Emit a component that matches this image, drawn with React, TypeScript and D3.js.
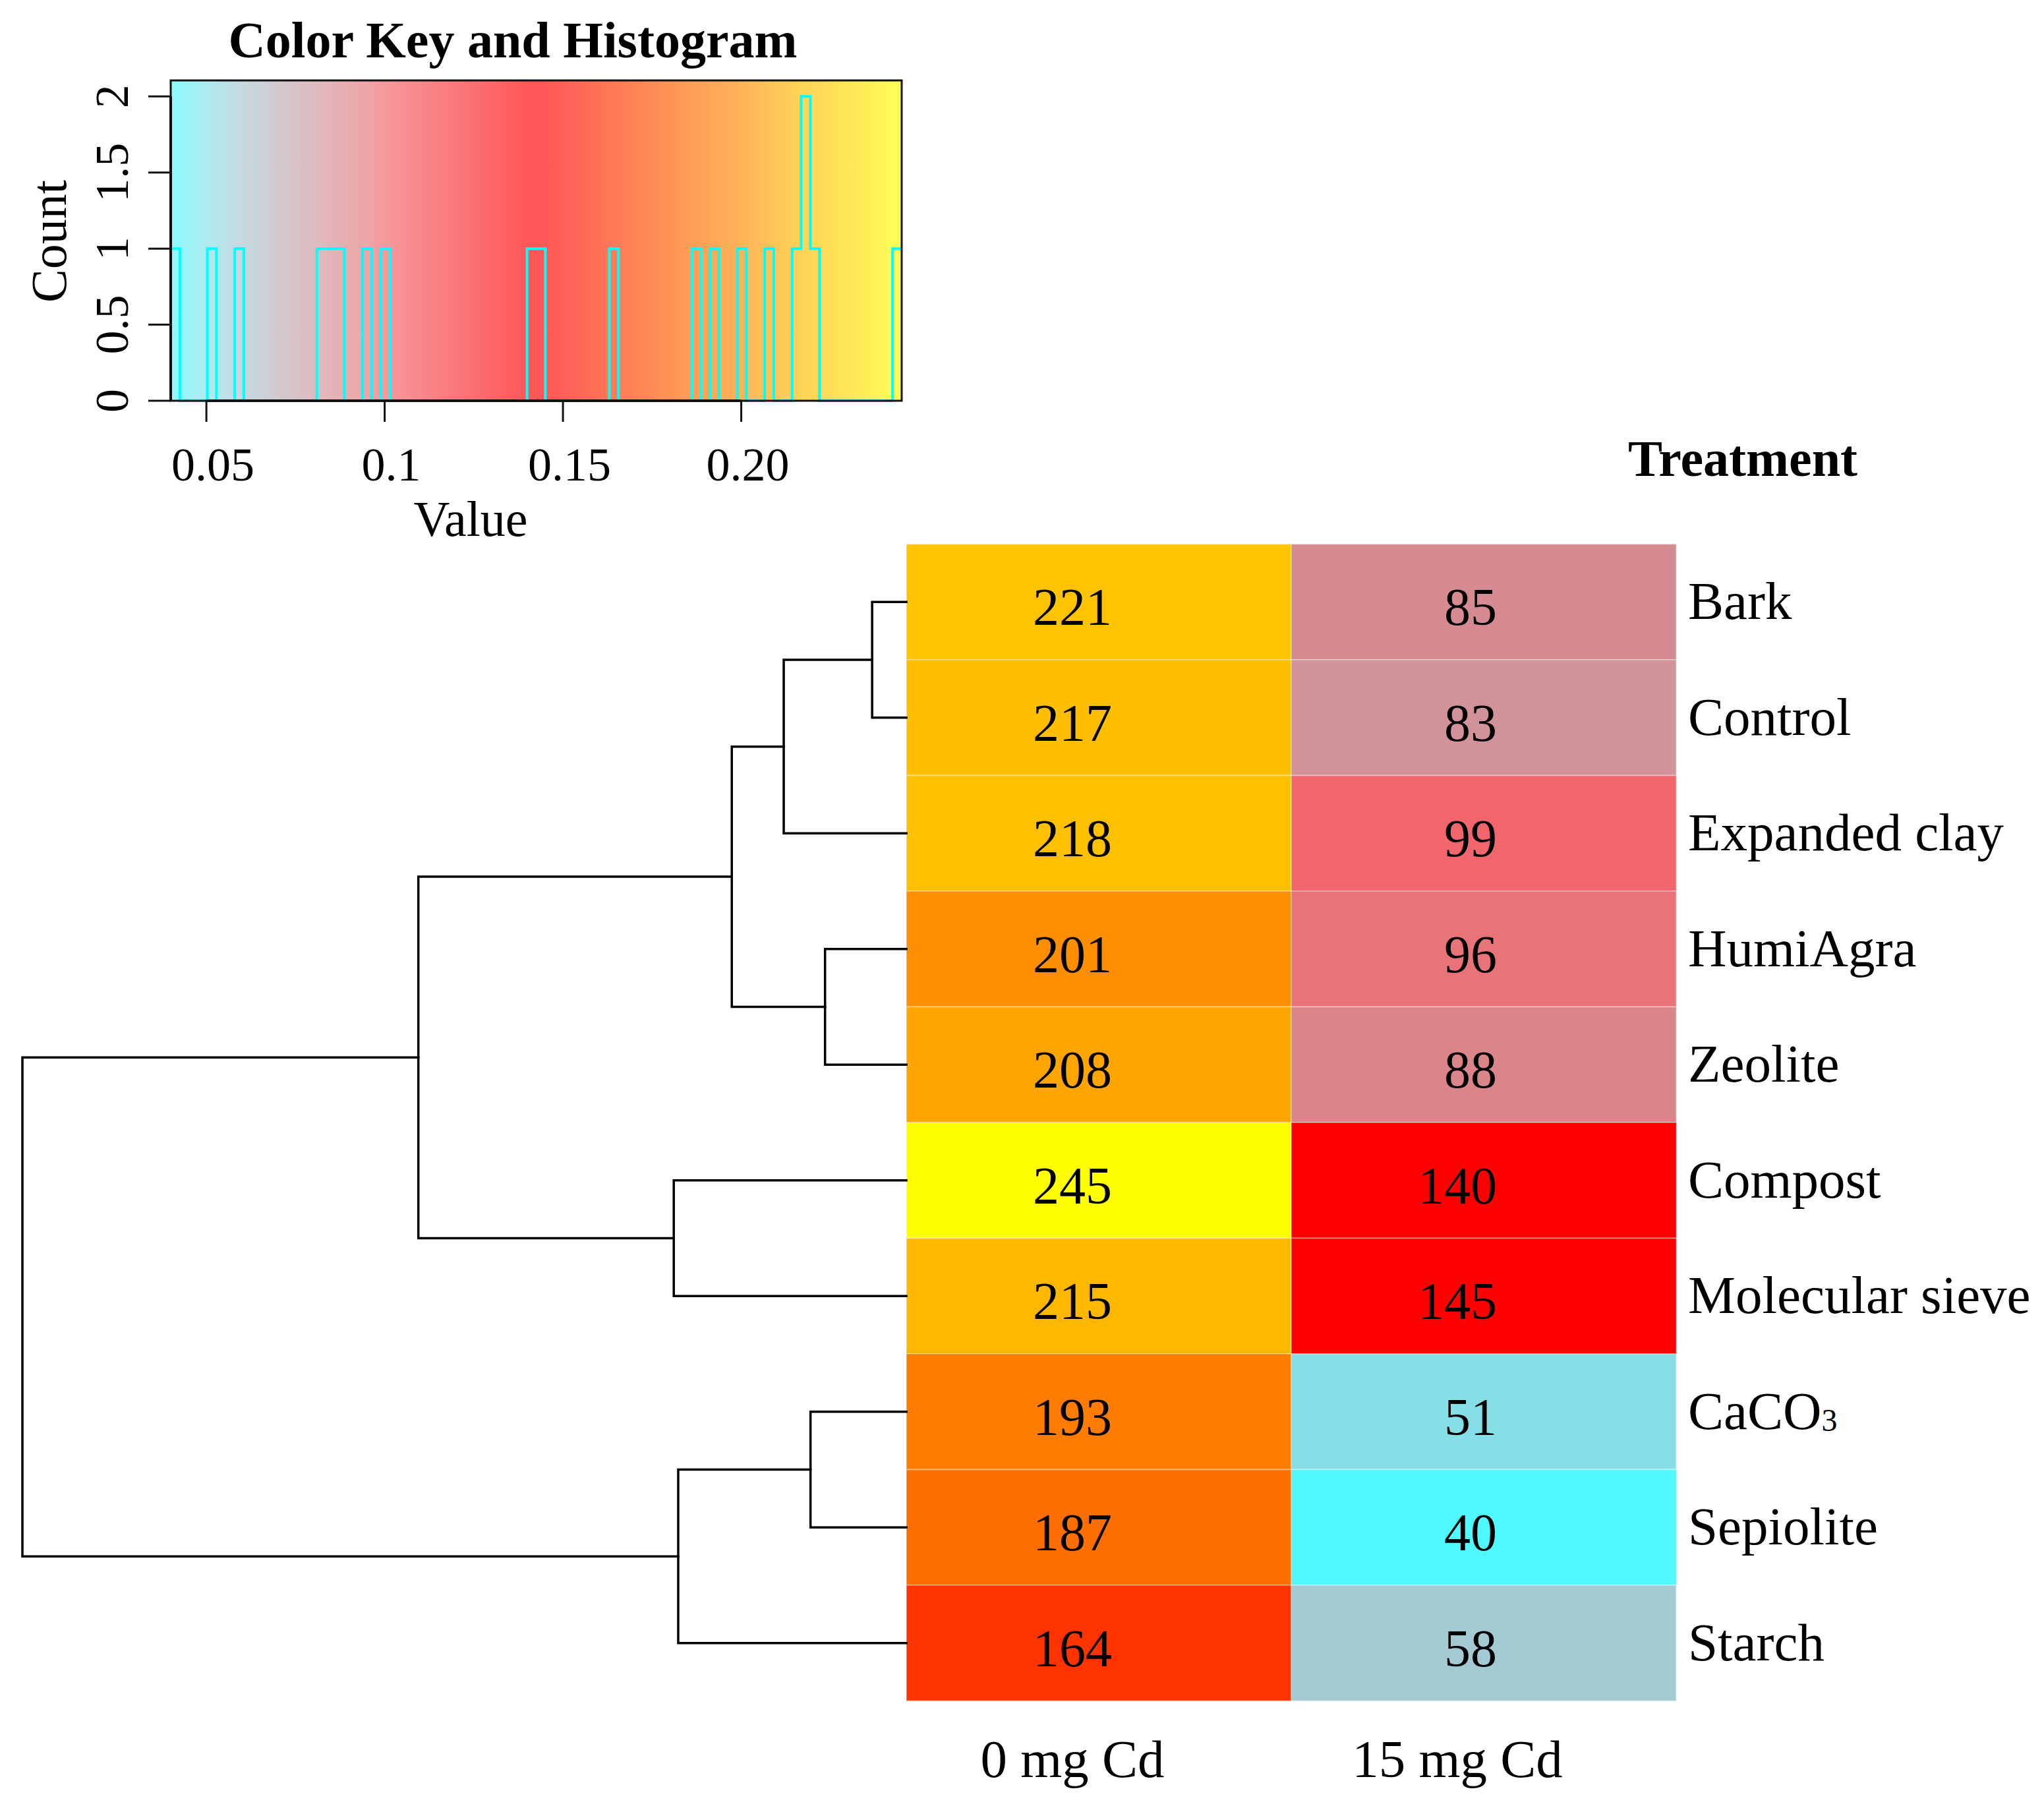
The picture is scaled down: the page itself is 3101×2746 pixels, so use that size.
import React, { useLayoutEffect } from "react";
import * as d3 from "d3";

// ---------------- DATA ----------------
const treatments = [
  "Bark",
  "Control",
  "Expanded clay",
  "HumiAgra",
  "Zeolite",
  "Compost",
  "Molecular sieve",
  "CaCO3",
  "Sepiolite",
  "Starch",
];
const columns = ["0 mg Cd", "15 mg Cd"];
const cd0 = [221, 217, 218, 201, 208, 245, 215, 193, 187, 164];
const cd15 = [85, 83, 99, 96, 88, 140, 145, 51, 40, 58];

// colour ramp read from the cells (value -> colour)
const stopValues = [40, 51, 58, 83, 85, 88, 96, 99, 140, 145, 164, 187, 193, 201, 208, 215, 217, 218, 221, 245];
const stopColors = [
  "#50F8FF", "#86DEE6", "#A3CAD3", "#D29299", "#D68B93", "#D98589", "#E87479", "#F0666C",
  "#FF0000", "#FF0000", "#FF3300", "#FF6E00", "#FF7C00", "#FF8E00", "#FFA500", "#FFB700",
  "#FFBF00", "#FFC000", "#FFC300", "#FFFF00",
];

const keyFactor = 1000; // key axis shows value / 1000
const nBins = 80;
const xTickValues = [0.05, 0.1, 0.15, 0.2];
const xTickLabels = ["0.05", "0.1", "0.15", "0.20"];
const yTickValues = [0, 0.5, 1, 1.5, 2];
const yTickLabels = ["0", "0.5", "1", "1.5", "2"];

// ---------------- LAYOUT ----------------
const W = 3101;
const H = 2746;
const FONT = "'Liberation Serif', 'Times New Roman', serif";

const keyBox = { left: 259, right: 1368, top: 122, bottom: 608 };
const heat = { left: 1375, right: 2543, top: 825.5, bottom: 2580.5 };
const dendroLeft = 34;

export default function App() {
  useLayoutEffect(() => {
    document.body.style.margin = "0";
  }, []);

  const allValues = [...cd0, ...cd15];
  const vMin = d3.min(allValues) as number;
  const vMax = d3.max(allValues) as number;

  const color = d3
    .scaleLinear<string>()
    .domain(stopValues)
    .range(stopColors)
    .interpolate(d3.interpolateRgb);

  // ---- key / histogram scales
  const xKey = d3
    .scaleLinear()
    .domain([vMin / keyFactor, vMax / keyFactor])
    .range([keyBox.left, keyBox.right]);

  const binW = (vMax - vMin) / nBins;
  const counts = new Array(nBins).fill(0);
  allValues.forEach((v) => {
    const idx = Math.min(nBins - 1, Math.floor((v - vMin) / binW + 1e-9));
    counts[idx] += 1;
  });
  const maxCount = d3.max(counts) as number;
  const yKey = d3
    .scaleLinear()
    .domain([0, maxCount / 0.95])
    .range([keyBox.bottom, keyBox.top]);

  const histPts: [number, number][] = [[vMin / keyFactor, 0]];
  counts.forEach((c, i) => histPts.push([(vMin + i * binW) / keyFactor, c]));
  histPts.push([vMax / keyFactor, counts[nBins - 1]]);
  const histLine = d3
    .line<[number, number]>()
    .x((d) => xKey(d[0]))
    .y((d) => yKey(d[1]))
    .curve(d3.curveStepAfter);

  const gradStops = stopValues.map((v, i) => ({
    offset: (v - vMin) / (vMax - vMin),
    c: stopColors[i],
  }));

  // ---- heatmap scales
  const xCol = d3.scaleBand<string>().domain(columns).range([heat.left, heat.right]);
  const yRow = d3.scaleBand<string>().domain(treatments).range([heat.top, heat.bottom]);
  const rowCenter = (i: number) => (yRow(treatments[i]) as number) + yRow.bandwidth() / 2;

  // ---- complete-linkage clustering (Euclidean) of rows
  const vec = treatments.map((_, i) => [cd0[i], cd15[i]]);
  const dist = (a: number, b: number) => Math.hypot(vec[a][0] - vec[b][0], vec[a][1] - vec[b][1]);
  type Node = { members: number[]; h: number; y: number; children?: [Node, Node] };
  let clusters: Node[] = treatments.map((_, i) => ({ members: [i], h: 0, y: rowCenter(i) }));
  const internal: Node[] = [];
  while (clusters.length > 1) {
    let best = Infinity;
    let bi = 0;
    let bj = 1;
    for (let i = 0; i < clusters.length; i++) {
      for (let j = i + 1; j < clusters.length; j++) {
        let dmax = 0;
        clusters[i].members.forEach((a) =>
          clusters[j].members.forEach((b) => {
            dmax = Math.max(dmax, dist(a, b));
          })
        );
        if (dmax < best) {
          best = dmax;
          bi = i;
          bj = j;
        }
      }
    }
    const a = clusters[bi];
    const b = clusters[bj];
    const node: Node = {
      members: [...a.members, ...b.members],
      h: best,
      y: (a.y + b.y) / 2,
      children: [a, b],
    };
    internal.push(node);
    clusters = clusters.filter((_, k) => k !== bi && k !== bj);
    clusters.push(node);
  }
  const rootH = clusters[0].h;
  const xDen = d3.scaleLinear().domain([0, rootH]).range([heat.left, dendroLeft]);

  const dendroPaths = internal.map((n) => {
    const [a, b] = n.children as [Node, Node];
    const xn = xDen(n.h);
    return `M${xDen(a.h)},${a.y}H${xn}V${b.y}H${xDen(b.h)}`;
  });

  const numberBaseline = 35;
  const numberDx = 20;

  return (
    <div style={{ position: "absolute", left: 0, top: 0 }}>
      <svg width={W} height={H} viewBox={`0 0 ${W} ${H}`} style={{ display: "block", background: "#fff" }}>
        <defs>
          <linearGradient id="keyGrad" x1="0" x2="1" y1="0" y2="0">
            {gradStops.map((s, i) => (
              <stop key={i} offset={s.offset} stopColor={s.c} />
            ))}
          </linearGradient>
        </defs>
        <rect x={0} y={0} width={W} height={H} fill="#fff" />

        {/* ---------- Colour key & histogram ---------- */}
        <text x={778} y={87} textAnchor="middle" fontFamily={FONT} fontWeight="bold" fontSize={78} fill="#000">
          Color Key and Histogram
        </text>
        <rect
          x={keyBox.left}
          y={keyBox.top}
          width={keyBox.right - keyBox.left}
          height={keyBox.bottom - keyBox.top}
          fill="url(#keyGrad)"
          fillOpacity={0.66}
        />
        <path d={histLine(histPts) as string} fill="none" stroke="#00FFFF" strokeWidth={4} />
        <rect
          x={keyBox.left}
          y={keyBox.top}
          width={keyBox.right - keyBox.left}
          height={keyBox.bottom - keyBox.top}
          fill="none"
          stroke="#111"
          strokeWidth={3}
        />
        {/* y axis */}
        <line x1={keyBox.left} x2={keyBox.left} y1={yKey(0)} y2={yKey(2)} stroke="#111" strokeWidth={4} />
        {yTickValues.map((t, i) => (
          <g key={t}>
            <line x1={keyBox.left - 34} x2={keyBox.left} y1={yKey(t)} y2={yKey(t)} stroke="#111" strokeWidth={3} />
            <text
              transform={`translate(194,${yKey(t)}) rotate(-90)`}
              textAnchor="middle"
              fontFamily={FONT}
              fontSize={72}
              fill="#000"
            >
              {yTickLabels[i]}
            </text>
          </g>
        ))}
        <text transform={`translate(100,366) rotate(-90)`} textAnchor="middle" fontFamily={FONT} fontSize={76} fill="#000">
          Count
        </text>
        {/* x axis */}
        <line x1={xKey(xTickValues[0])} x2={xKey(xTickValues[3])} y1={keyBox.bottom} y2={keyBox.bottom} stroke="#111" strokeWidth={4} />
        {xTickValues.map((t, i) => (
          <g key={t}>
            <line x1={xKey(t)} x2={xKey(t)} y1={keyBox.bottom} y2={keyBox.bottom + 32} stroke="#111" strokeWidth={3} />
            <text x={xKey(t) + 10} y={729} textAnchor="middle" fontFamily={FONT} fontSize={72} fill="#000">
              {xTickLabels[i]}
            </text>
          </g>
        ))}
        <text x={714} y={813} textAnchor="middle" fontFamily={FONT} fontSize={76} fill="#000">
          Value
        </text>

        {/* ---------- Heatmap ---------- */}
        <text x={2644} y={722} textAnchor="middle" fontFamily={FONT} fontWeight="bold" fontSize={78} fill="#000">
          Treatment
        </text>
        {treatments.map((t, i) =>
          [cd0[i], cd15[i]].map((v, j) => (
            <rect
              key={`${t}-${j}`}
              x={xCol(columns[j])}
              y={yRow(t)}
              width={xCol.bandwidth()}
              height={yRow.bandwidth()}
              fill={color(v)}
              stroke="rgba(255,255,255,0.3)"
              strokeWidth={2}
            />
          ))
        )}
        {treatments.map((t, i) =>
          [cd0[i], cd15[i]].map((v, j) => (
            <text
              key={`n-${t}-${j}`}
              x={(xCol(columns[j]) as number) + xCol.bandwidth() / 2 + numberDx}
              y={rowCenter(i) + numberBaseline}
              textAnchor="end"
              fontFamily={FONT}
              fontSize={80}
              fill="#000"
            >
              {v}
            </text>
          ))
        )}
        {treatments.map((t, i) => (
          <text key={`l-${t}`} x={2561} y={rowCenter(i) + 26} fontFamily={FONT} fontSize={81} fill="#000">
            {t === "CaCO3" ? (
              <>
                CaCO<tspan fontSize={48} dy={3}>3</tspan>
              </>
            ) : (
              t
            )}
          </text>
        ))}
        {columns.map((c) => (
          <text
            key={c}
            x={(xCol(c) as number) + xCol.bandwidth() / 2 - 40}
            y={2696}
            textAnchor="middle"
            fontFamily={FONT}
            fontSize={81}
            fill="#000"
          >
            {c}
          </text>
        ))}

        {/* ---------- Row dendrogram ---------- */}
        <g fill="none" stroke="#000" strokeWidth={3.5} strokeLinecap="square">
          {dendroPaths.map((d, i) => (
            <path key={i} d={d} />
          ))}
        </g>
      </svg>
    </div>
  );
}
